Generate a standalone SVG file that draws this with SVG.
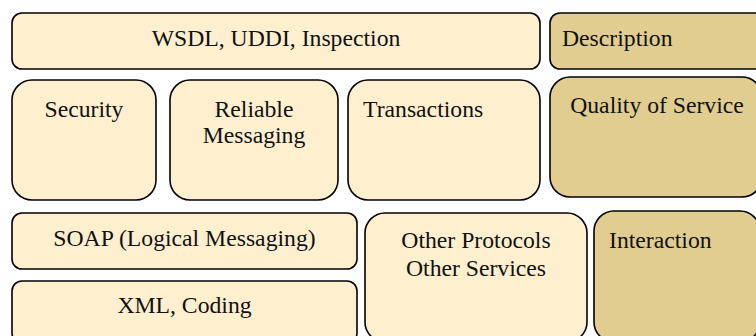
<svg xmlns="http://www.w3.org/2000/svg" width="756" height="336" viewBox="0 0 756 336">
<style>
.l{fill:#FEF0CF;stroke:#000;stroke-width:1.6}
.d{fill:#E1CD8F;stroke:#000;stroke-width:1.6}
text{font-family:"Liberation Serif","Times New Roman",serif;font-size:23.7px;fill:#111}
.c{text-anchor:middle}
</style>
<rect width="756" height="336" fill="#fff"/>
<g id="wsdl"><rect class="l" x="12" y="13" width="528" height="56" rx="10"/><text class="c" x="276" y="46">WSDL, UDDI, Inspection</text></g>
<g id="description"><rect class="d" x="550" y="13" width="215" height="56" rx="10"/><text x="562" y="46">Description</text></g>
<g id="security"><rect class="l" x="12" y="80" width="144" height="120" rx="20"/><text class="c" x="84" y="117">Security</text></g>
<g id="reliable"><rect class="l" x="170" y="80" width="168" height="120" rx="20"/><text class="c" x="254" y="117">Reliable</text><text class="c" x="254" y="143">Messaging</text></g>
<g id="transactions"><rect class="l" x="348" y="80" width="192" height="120" rx="20"/><text x="363" y="117">Transactions</text></g>
<g id="qos"><rect class="d" x="550" y="77" width="212" height="120" rx="20"/><text class="c" x="657" y="113">Quality of Service</text></g>
<g id="soap"><rect class="l" x="12" y="213" width="345" height="56" rx="10"/><text class="c" x="184.5" y="246">SOAP (Logical Messaging)</text></g>
<g id="xml"><rect class="l" x="12" y="281" width="345" height="62" rx="10"/><text class="c" x="184.5" y="313">XML, Coding</text></g>
<g id="other"><rect class="l" x="365" y="213" width="222" height="129" rx="20"/><text class="c" x="476" y="248">Other Protocols</text><text class="c" x="476" y="276">Other Services</text></g>
<g id="interaction"><rect class="d" x="594" y="211" width="166" height="131" rx="20"/><text x="609" y="248">Interaction</text></g>
<g id="connectors"></g>
</svg>
